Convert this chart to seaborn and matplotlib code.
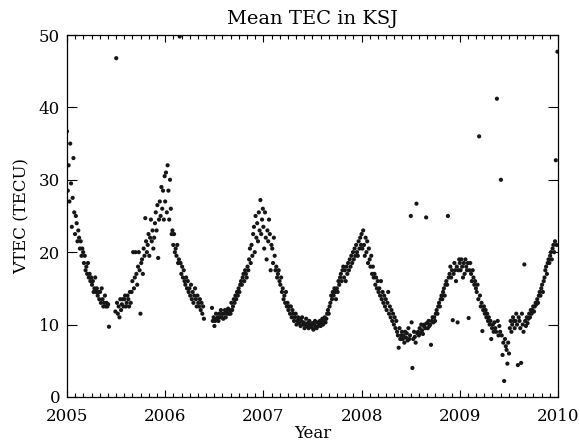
import numpy as np
import pandas as pd
import seaborn as sns
import matplotlib.pyplot as plt
from matplotlib.ticker import MultipleLocator

# daily-mean VTEC sampled every 3 days, one list per year (nan = no data)
nan = np.nan
tec_2005 = [
    36.7, 28.5, 32.0, 27.0, 35.0, 29.5, 23.5, 27.5, 33.0, 25.5,
    22.5, 25.0, 24.0, 21.5, 23.0, 22.0, 20.5, 21.5, 19.5, 20.5,
    20.0, 18.5, 19.5, 17.5, 18.0, 17.0, 18.5, 16.5, 17.0, 16.0,
    16.5, 15.5, 16.0, 14.5, 15.0, 16.5, 14.5, 15.0, 14.0, 14.5,
    13.5, 14.5, 13.0, 15.0, 13.5, 12.5, 13.0, 14.0, 12.5, 13.0,
    12.5, 12.8, 9.7, nan, nan, nan, nan, nan, nan, nan,
    11.8, 46.8, 13.0, 11.5, 12.5, 11.0, 13.5, 12.0, 12.8, 13.5,
    12.5, 13.5, 14.0, 12.5, 13.0, 14.0, 13.5, 12.5, 14.5, 13.0,
    14.5, 16.0, 20.0, 15.0, 16.5, 20.0, 17.0, 15.5, 18.0, 20.0,
    17.5, 11.5, 18.5, 19.0, 17.0, 20.5, 19.5, 24.7, 21.5, 20.0,
    21.0, 22.5, 19.5, 22.0, 24.5, 21.5, 23.0, 20.5, 22.0, 24.0,
    25.5, 23.0, 26.5, 19.2, 24.5, 27.0, 25.0, 29.0, 26.0, 28.5, 24.5, 30.5,
]
tec_2006 = [
    27.0, 31.0, 25.5, 32.0, 28.5, 24.5, 30.0, 26.0, 22.5, 23.0,
    21.0, 22.5, 20.0, 20.5, 19.5, 21.0, 18.5, 19.0, 49.8, 18.5,
    17.0, 18.0, 16.5, 17.5, 16.0, 15.5, 16.5, 15.0, 16.0, 14.5,
    15.0, 14.0, 15.5, 13.5, 14.5, 13.0, 14.0, 15.0, 13.5, 12.5,
    14.0, 13.0, 12.5, 13.5, 12.0, 13.0, 11.5, 12.5, 10.8, nan,
    nan, nan, nan, nan, nan, nan, nan, nan, 12.3, 10.5,
    11.0, 9.8, 10.5, 11.5, 10.8, 11.0, 10.5, 11.5, 11.0, 12.0,
    11.0, 11.5, 10.8, 11.5, 12.0, 11.0, 11.8, 11.5, 12.2, 11.5,
    12.0, 11.5, 13.0, 12.0, 12.5, 13.5, 13.0, 14.0, 13.5, 14.5,
    14.0, 15.0, 14.5, 15.5, 16.0, 15.5, 16.5, 17.0, 16.0, 17.5,
    17.0, 16.5, 18.0, 17.5, 19.0, 20.5, 18.5, 21.0, 19.5, 22.5,
    23.5, 20.0, 25.0, 22.0, 24.0, 21.5, 25.5, 23.0, 27.2, 22.5, 24.5, 26.0,
]
tec_2007 = [
    23.5, 20.5, 25.5, 22.0, 19.0, 23.0, 21.5, 24.5, 22.5, 17.5,
    21.0, 20.5, 18.5, 22.0, 19.5, 17.5, 18.0, 16.5, 17.0, 17.5,
    16.0, 15.5, 16.5, 14.5, 15.0, 13.5, 14.0, 13.0, 14.5, 12.5,
    13.0, 12.0, 12.5, 11.5, 12.5, 11.0, 12.0, 11.5, 10.5, 11.0,
    11.5, 10.0, 10.5, 11.0, 10.2, 10.8, 9.8, 10.5, 11.0, 10.0,
    10.3, 9.5, 10.0, 10.8, 9.8, 10.2, 9.5, 10.5, 9.8, 10.0,
    9.6, 10.2, 9.3, 10.0, 10.5, 9.7, 9.5, 10.3, 9.8, 10.0,
    10.5, 9.8, 10.2, 10.8, 10.0, 10.5, 11.0, 10.3, 10.8, 11.5,
    12.0, 11.5, 12.5, 13.0, 14.0, 13.5, 14.5, 14.0, 15.0, 14.5,
    13.5, 15.0, 14.5, 16.0, 15.5, 16.5, 17.0, 16.0, 17.5, 18.0,
    16.5, 17.5, 16.0, 18.0, 17.0, 18.5, 17.5, 19.0, 18.0, 19.5,
    18.5, 20.0, 19.0, 20.5, 19.5, 21.0, 20.0, 19.5, 21.5, 20.5, 22.0, 21.0,
]
tec_2008 = [
    22.5, 20.5, 23.0, 21.0, 19.5, 22.0, 20.0, 21.5, 18.5, 20.5,
    19.0, 18.0, 19.5, 17.0, 18.0, 16.5, 17.0, 15.5, 16.5, 15.0,
    16.0, 14.5, 15.0, 14.0, 16.0, 13.5, 14.5, 13.0, 14.0, 12.5,
    13.5, 12.0, 13.0, 14.5, 11.5, 12.5, 11.0, 12.0, 10.5, 11.5,
    10.0, 11.0, 9.5, 10.5, 9.0, 8.5, 6.8, 9.5, 8.0, 8.5,
    9.0, 8.0, 8.5, 7.5, 9.0, 8.2, 8.8, 7.8, 9.5, 8.0,
    8.5, 25.0, 10.3, 4.0, 8.0, 9.0, 8.3, 7.5, 26.7, 8.8,
    9.0, 8.5, 9.5, 8.8, 10.0, 9.2, 8.7, 9.8, 10.0, 9.5,
    24.8, 10.2, 9.5, 10.5, 9.8, 10.0, 7.2, 10.5, 11.0, 10.3,
    11.0, 10.5, 11.5, 12.0, 11.5, 12.5, 13.0, 12.5, 13.5, 14.0,
    13.5, 14.5, 15.0, 14.0, 15.5, 16.0, 15.5, 25.0, 16.5, 17.0,
    18.0, 16.5, 17.5, 10.6, 17.0, 18.5, 17.5, 16.0, 18.0, 10.3, 17.5, 19.0,
]
tec_2009 = [
    18.5, 17.5, 19.0, 18.0, 16.5, 18.5, 17.0, 19.0, 18.0, 17.5,
    18.5, 10.9, 17.5, 18.5, 17.0, 16.0, 17.5, 16.5, 15.5, 16.0,
    15.0, 14.5, 15.5, 13.5, 36.0, 14.0, 12.5, 13.0, 9.1, 12.0,
    12.5, 11.5, 12.0, 11.0, 11.5, 10.5, 11.0, 10.0, 10.5, 8.0,
    9.5, 10.0, 9.0, 10.3, 9.5, 9.0, 41.2, 10.5, 8.5, 9.8,
    9.0, 30.0, 8.5, 5.8, 7.5, 2.2, 8.0, 7.0, 6.5, 4.6,
    7.5, 6.0, 9.5, 10.5, 9.0, 10.0, 11.0, 10.5, 9.5, 10.5,
    11.5, 10.0, 4.4, 11.0, 10.5, 9.5, 4.7, 11.5, 10.0, 9.0,
    18.3, 10.5, 9.8, 11.0, 10.2, 10.8, 11.5, 11.0, 12.0, 11.5,
    12.0, 12.5, 11.8, 12.5, 13.0, 12.8, 13.5, 13.0, 14.0, 14.5,
    14.0, 15.0, 15.5, 14.5, 16.0, 16.5, 17.5, 18.0, 17.0, 18.5,
    19.0, 18.5, 19.5, 20.0, 19.0, 20.5, 21.0, 20.0, 21.5, 32.7, 21.0, 47.7,
]
years = [2005, 2006, 2007, 2008, 2009]
step_days = 3

frames = []
for yr, vals in zip(years, [tec_2005, tec_2006, tec_2007, tec_2008, tec_2009]):
    days = np.arange(len(vals)) * step_days
    frames.append(pd.DataFrame({'year': yr + days / 365.0, 'vtec': vals}))
df = pd.concat(frames).dropna()

sns.set_style('ticks')
plt.rcParams['font.family'] = ['DejaVu Serif']
plt.rcParams['text.color'] = 'black'
plt.rcParams['axes.labelcolor'] = 'black'
plt.rcParams['xtick.color'] = 'black'
plt.rcParams['ytick.color'] = 'black'

fig = plt.figure(figsize=(5.8, 4.46), dpi=100)
ax = fig.add_axes([0.1155, 0.11, 0.8465, 0.8115])
sns.scatterplot(data=df, x='year', y='vtec', ax=ax, s=9, color='#161616',
                linewidth=0, edgecolor='none')

ax.set_xlim(2005, 2010)
ax.set_ylim(0, 50)
ax.xaxis.set_major_locator(MultipleLocator(1))
ax.xaxis.set_minor_locator(MultipleLocator(1 / 12))
ax.yaxis.set_major_locator(MultipleLocator(10))
ax.xaxis.set_major_formatter(plt.FuncFormatter(lambda v, p: f'{int(round(v))}'))
ax.tick_params(axis='both', which='both', direction='in', top=True, right=True,
               labelsize=12, color='black', labelcolor='black', width=0.8)
ax.tick_params(axis='y', which='major', length=7, pad=5)
ax.tick_params(axis='x', which='major', length=5, pad=8)
ax.tick_params(axis='x', which='minor', length=3)
for sp in ax.spines.values():
    sp.set_linewidth(0.9)
    sp.set_color('black')

ax.set_title('Mean TEC in KSJ', fontsize=14, pad=8, color='black')
ax.set_xlabel('Year', fontsize=12, labelpad=0)
ax.set_ylabel('VTEC (TECU)', fontsize=12, labelpad=6)

fig.savefig('out.png', dpi=100)
